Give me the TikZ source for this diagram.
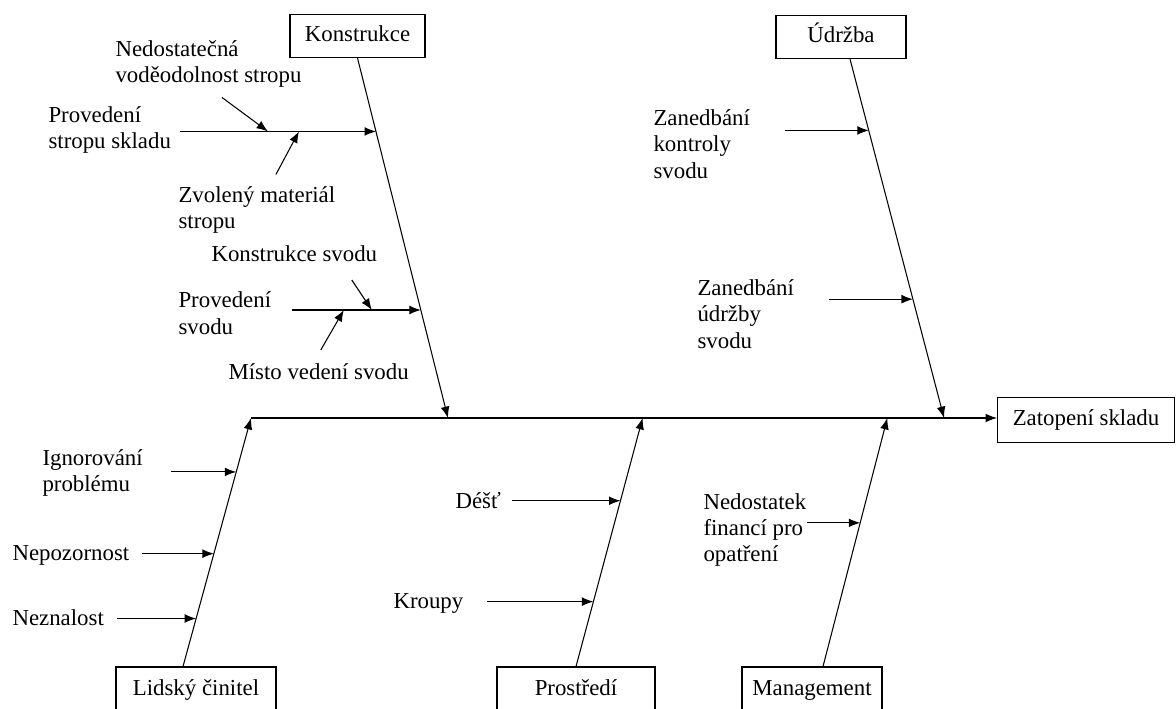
\documentclass[tikz,border=0pt]{standalone}
\usepackage{fontspec}
\setmainfont{Liberation Serif}
\usetikzlibrary{arrows.meta}

\begin{document}
\begin{tikzpicture}[x=0.02cm,y=-0.02cm,line width=0.6pt,
  font=\fontsize{13}{15}\selectfont,
  box/.style={draw,minimum height=0.86cm,inner sep=2pt,text height=9pt,text depth=3pt},
  cause/.style={anchor=west,align=left,inner sep=0pt},
  arr/.style={-{Latex[length=6.5pt,width=5pt]}}]
\useasboundingbox (0,0) rectangle (1176,709);
\node[box,minimum width=2.7cm] (kon) at (357.5,36) {Konstrukce};
\node[box,minimum width=2.6cm] (udr) at (841,37) {Údržba};
\node[box,minimum width=3.54cm,minimum height=0.9cm] (zat) at (1086,420) {Zatopení skladu};
\node[box,minimum width=3.2cm,minimum height=0.92cm] (lid) at (196,690) {Lidský činitel};
\node[box,minimum width=3.16cm,minimum height=0.92cm] (pro) at (576,690) {Prostředí};
\node[box,minimum width=2.8cm,minimum height=0.92cm] (man) at (812,690) {Management};
\node[cause] (nd) at (115,64) {Nedostatečná\\voděodolnost stropu};
\node[cause] (ps) at (48,130) {Provedení\\stropu skladu};
\node[cause] (zv) at (178,210) {Zvolený materiál\\stropu};
\node[cause] (ks) at (211,254) {Konstrukce svodu};
\node[cause] (pv) at (178,313) {Provedení\\svodu};
\node[cause] (mv) at (228,372) {Místo vedení svodu};
\node[cause] (zk) at (653,144) {Zanedbání\\kontroly\\svodu};
\node[cause] (zu) at (697,314) {Zanedbání\\údržby\\svodu};
\node[cause] (ig) at (42,473) {Ignorování\\problému};
\node[cause] (np) at (12,555) {Nepozornost};
\node[cause] (nz) at (12,618) {Neznalost};
\node[cause] (de) at (455,501) {Déšť};
\node[cause] (kr) at (393,603) {Kroupy};
\node[cause] (nf) at (703,530) {Nedostatek\\financí pro\\opatření};
\coordinate (l9) at (251,418);
\draw[arr] (l9) -- coordinate[pos=.264] (k9) coordinate[pos=.525] (p9)
  coordinate[pos=.853] (m9) coordinate[pos=.929] (u9) (l9 -| zat.west);
\draw[arr] (kon.south) -- coordinate[pos=.204] (k1) coordinate[pos=.70] (k2) (k9);
\draw[arr] (udr.south) ++(9,0) -- coordinate[pos=.199] (u1) coordinate[pos=.669] (u2) (u9);
\draw[arr] (lid.north) ++(-13,0) -- coordinate[pos=.193] (l1) coordinate[pos=.454] (l2)
  coordinate[pos=.783] (l3) (l9);
\draw[arr] (pro.north) -- coordinate[pos=.261] (p1) coordinate[pos=.667] (p2) (p9);
\draw[arr] (man.north) ++(11,0) -- coordinate[pos=.578] (m1) (m9);
\draw[arr] (k1) ++(-196,0) -- coordinate[pos=.449] (k1a) coordinate[pos=.607] (k1b) (k1);
\draw[arr] (k2) ++(-129,0) -- coordinate[pos=.403] (k2a) coordinate[pos=.62] (k2b) (k2);
\draw[arr] (k1a) ++(-46,-34) -- (k1a);
\draw[arr] (k1b) ++(-23,43) -- (k1b);
\draw[arr] (k2a) ++(-23,40) -- (k2a);
\draw[arr] (k2b) ++(-20,-30) -- (k2b);
\foreach \c/\d in {u1/84,u2/84,l1/79,l2/72,l3/65,p1/106,p2/108,m1/53}
  \draw[arr] (\c) ++(-\d,0) -- (\c);
\end{tikzpicture}
\end{document}
